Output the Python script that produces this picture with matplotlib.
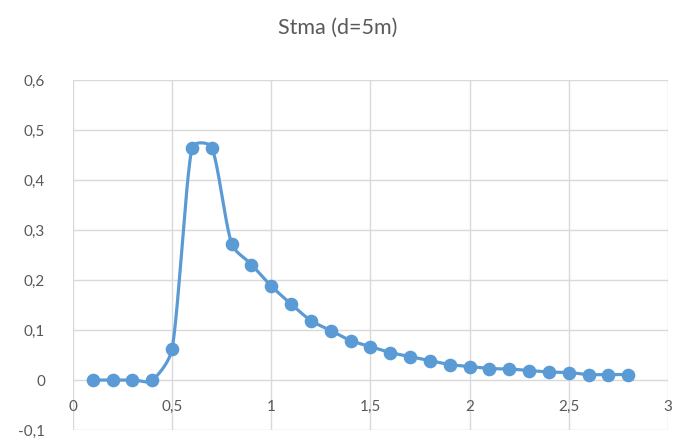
import numpy as np
import matplotlib
matplotlib.use("Agg")
import matplotlib.pyplot as plt
from matplotlib.transforms import offset_copy

plt.rcParams['font.family'] = ['Lato', 'DejaVu Sans']

title = "Stma (d=5m)"
x_vals = [0.1, 0.2, 0.3, 0.4, 0.5, 0.6, 0.7, 0.8, 0.9, 1.0, 1.1, 1.2, 1.3, 1.4,
          1.5, 1.6, 1.7, 1.8, 1.9, 2.0, 2.1, 2.2, 2.3, 2.4, 2.5, 2.6, 2.7, 2.8]
y_vals = [0.0, 0.0, 0.0, 0.0, 0.063, 0.465, 0.465, 0.273, 0.231, 0.188, 0.152, 0.119,
          0.099, 0.079, 0.067, 0.055, 0.047, 0.039, 0.031, 0.027, 0.023, 0.022,
          0.019, 0.016, 0.015, 0.011, 0.011, 0.011]
x_ticks = [0, 0.5, 1, 1.5, 2, 2.5, 3]
x_labels = ["0", "0,5", "1", "1,5", "2", "2,5", "3"]
y_ticks = [-0.1, 0, 0.1, 0.2, 0.3, 0.4, 0.5, 0.6]
y_labels = ["-0,1", "0", "0,1", "0,2", "0,3", "0,4", "0,5", "0,6"]

color = "#5B9BD5"
grid_c = "#D9D9D9"
text_c = "#595959"

fig = plt.figure(figsize=(6.76, 4.43), dpi=100)
ax = fig.add_axes([0.108, 0.0293, 0.880, 0.790])
ax.set_xlim(0, 3)
ax.set_ylim(-0.1, 0.6)

# Smooth curve (Excel-like Bezier with limited tangents) computed in pixel-like space
sx, sy = 595 / 3.0, 350 / 0.7
P = np.column_stack([np.array(x_vals) * sx, np.array(y_vals) * sy])
n = len(P)
curve = []
t = np.linspace(0, 1, 40)


def limit(off, seglen):
    L = np.hypot(*off)
    cap = seglen / 3
    if L > cap and L > 0:
        off = off * cap / L
    return off


for i in range(n - 1):
    p0 = P[i - 1] if i > 0 else P[i]
    p1 = P[i]
    p2 = P[i + 1]
    p3 = P[i + 2] if i + 2 < n else P[i + 1]
    seglen = np.hypot(*(p2 - p1))
    c1 = p1 + limit((p2 - p0) / 6.0, seglen)
    c2 = p2 - limit((p3 - p1) / 6.0, seglen)
    seg = ((1 - t) ** 3)[:, None] * p1 + (3 * (1 - t) ** 2 * t)[:, None] * c1 + \
          (3 * (1 - t) * t ** 2)[:, None] * c2 + (t ** 3)[:, None] * p2
    curve.append(seg)
curve = np.vstack(curve)
ax.plot(curve[:, 0] / sx, curve[:, 1] / sy, color=color, lw=2.3, zorder=3,
        solid_capstyle='round', solid_joinstyle='round')
ax.plot(x_vals, y_vals, 'o', color=color, markersize=8.8, zorder=4)

# Grid
for yt in y_ticks:
    ax.axhline(yt, color=grid_c, lw=1.0, zorder=1)
for xt in x_ticks:
    ax.axvline(xt, color=grid_c, lw=1.0, zorder=1)

for s in ax.spines.values():
    s.set_visible(False)
ax.set_xticks([])
ax.set_yticks(y_ticks)
ax.set_yticklabels(y_labels)
ax.tick_params(axis='y', length=0, pad=20, labelsize=11, labelcolor=text_c)

for xt, lab in zip(x_ticks, x_labels):
    tr = offset_copy(ax.transData, fig=fig, x=0, y=-20, units='dots')
    ax.text(xt, 0, lab, transform=tr, ha='center', va='top', fontsize=11,
            color=text_c)

fig.text(0.5, 0.937, title, ha='center', va='center', fontsize=15.5, color=text_c)

fig.savefig("out.png", dpi=100)
